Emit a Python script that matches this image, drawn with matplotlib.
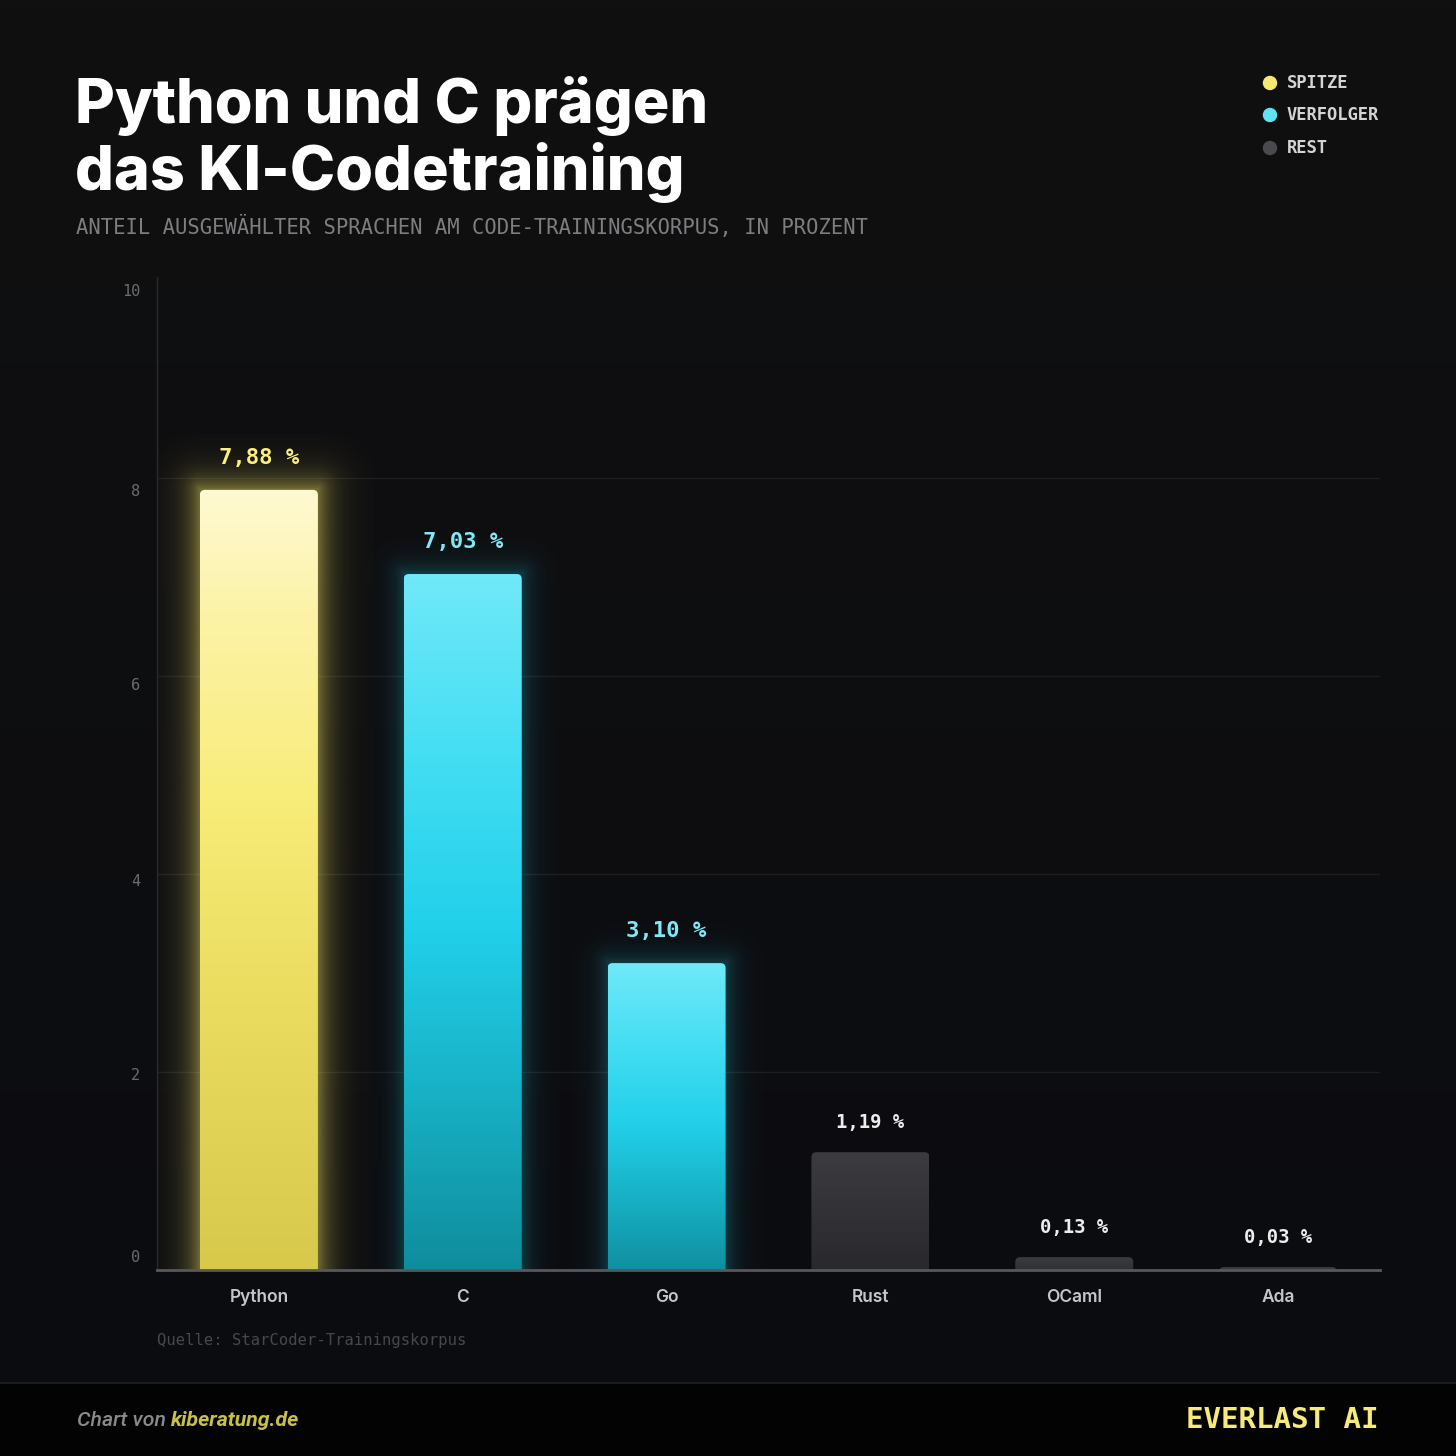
import numpy as np
import matplotlib
matplotlib.use("Agg")
import matplotlib.pyplot as plt
from matplotlib.patches import FancyBboxPatch, Rectangle, Circle
from matplotlib.colors import LinearSegmentedColormap, to_rgb
from matplotlib import transforms

# ---------------- data ----------------
categories = ["Python", "C", "Go", "Rust", "OCaml", "Ada"]
values = [7.88, 7.03, 3.10, 1.19, 0.13, 0.03]
value_labels = ["7,88 %", "7,03 %", "3,10 %", "1,19 %", "0,13 %", "0,03 %"]
groups = ["SPITZE", "VERFOLGER", "VERFOLGER", "REST", "REST", "REST"]
legend_labels = ["SPITZE", "VERFOLGER", "REST"]
y_ticks = [0, 2, 4, 6, 8, 10]
title_lines = ["Python und C prägen", "das KI-Codetraining"]
subtitle = "ANTEIL AUSGEWÄHLTER SPRACHEN AM CODE-TRAININGSKORPUS, IN PROZENT"
source = "Quelle: StarCoder-Trainingskorpus"

# ---------------- style ----------------
W = H = 1456
DPI = 100
MONO = "DejaVu Sans Mono"
SANS = "Inter"

group_style = {
    "SPITZE": dict(
        stops=[(0, "#D6C84A"), (0.35, "#E9DC5E"), (0.6, "#F8EC78"), (0.85, "#FCF3A8"), (1, "#FFF9D2")],
        label="#FBF07E", dot="#F7EA70", glow="#F2E060", glow_a=0.45, glow_l=15.0,
        lab_size=16, lab_off=32),
    "VERFOLGER": dict(
        stops=[(0, "#0F8A9A"), (0.25, "#17AFC3"), (0.5, "#22D0EA"), (0.75, "#45DEF3"), (1, "#70E9F9")],
        label="#7FE9F8", dot="#5FE3F5", glow="#22D3EE", glow_a=0.22, glow_l=11.0,
        lab_size=16, lab_off=32),
    "REST": dict(
        stops=[(0, "#27272B"), (1, "#3C3C40")],
        label="#EDEDED", dot="#4A4A4E", glow=None, glow_a=0, glow_l=1.0,
        lab_size=13.6, lab_off=30),
}

fig = plt.figure(figsize=(W / DPI, H / DPI), dpi=DPI)
fig.patch.set_facecolor("#0e0e11")

def fx(px):
    return px / W

def fy(py):
    return 1 - py / H

# background axes in pixel coordinates
bg = fig.add_axes([0, 0, 1, 1], zorder=-10)
bg.set_xlim(0, W)
bg.set_ylim(H, 0)
bg.axis("off")
grad = np.linspace(0, 1, 256)[:, None]
top_c = np.array(to_rgb("#101011"))
bot_c = np.array(to_rgb("#0b0c10"))
bgimg = top_c[None, None, :] * (1 - grad[..., None]) + bot_c[None, None, :] * grad[..., None]
bg.imshow(bgimg, extent=[0, W, H, 0], aspect="auto", zorder=0)
# footer band
bg.add_patch(Rectangle((0, 1383), W, H - 1383, color="#030304", zorder=1))
bg.plot([0, W], [1383, 1383], color="#1b1b22", lw=1.5, zorder=2)

# legend dots
leg_y = [83, 115, 148]
for lab, yy in zip(legend_labels, leg_y):
    bg.add_patch(Circle((1270, yy), 6.5, color=group_style[lab]["dot"], zorder=3))
    fig.text(fx(1287), fy(yy), lab, family=MONO, fontweight="bold", fontsize=12.3,
             color="#D4D4D6", va="center", ha="left")

# titles
fig.text(fx(75), fy(123), title_lines[0], family=SANS, fontweight="heavy", fontsize=44,
         color="white", va="baseline", ha="left")
fig.text(fx(75), fy(190), title_lines[1], family=SANS, fontweight="heavy", fontsize=44,
         color="white", va="baseline", ha="left")
fig.text(fx(76), fy(234), subtitle, family=MONO, fontsize=14.8, color="#7E7E82",
         va="baseline", ha="left")

# ---------------- main axes ----------------
x_left, x_right, y_base, y_top = 157, 1380, 1270, 280
ax = fig.add_axes([fx(x_left), fy(y_base), fx(x_right - x_left), (y_base - y_top) / H])
ax.patch.set_alpha(0)
n = len(categories)
xlim = (-0.5, n - 0.5)
ylim = (0, 10)
px_per_x = (x_right - x_left) / (xlim[1] - xlim[0])
px_per_y = (y_base - y_top) / (ylim[1] - ylim[0])
bw = 118 / px_per_x
r_px = 5
asp = (1 / px_per_y) / (1 / px_per_x)

for t in y_ticks[1:-1]:
    ax.axhline(t, color="#1d1d21", lw=1, zorder=0)

for i, (v, g) in enumerate(zip(values, groups)):
    st = group_style[g]
    x0 = i - bw / 2
    # glow
    if st["glow"]:
        M = 55
        bwp = 118
        hp = v * px_per_y
        nx = int(bwp + 2 * M)
        ny = int(hp + M)
        xs = np.arange(nx) + 0.5 - M
        ys = np.arange(ny) + 0.5  # from baseline upwards
        X, Y = np.meshgrid(xs, ys)
        dx = np.maximum(np.maximum(-X, X - bwp), 0)
        dy = np.maximum(Y - hp, 0)
        d = np.hypot(dx, dy)
        a = st["glow_a"] * np.exp(-d / st["glow_l"])
        rgba = np.zeros((ny, nx, 4))
        rgba[..., :3] = to_rgb(st["glow"])
        rgba[..., 3] = a
        ax.imshow(rgba, extent=[x0 - M / px_per_x, x0 + bw + M / px_per_x, 0, v + M / px_per_y],
                  origin="lower", aspect="auto", zorder=2, interpolation="bilinear")
    patch = FancyBboxPatch((x0, -0.12), bw, v + 0.12,
                           boxstyle=f"round,pad=0,rounding_size={r_px / px_per_x}",
                           mutation_aspect=asp, lw=0, fc="none", zorder=3)
    ax.add_patch(patch)
    cmap = LinearSegmentedColormap.from_list(g, st["stops"])
    im = ax.imshow(grad, extent=[x0, x0 + bw, -0.12, v], origin="lower", aspect="auto",
                   cmap=cmap, vmin=0, vmax=1, zorder=3, interpolation="bilinear")
    im.set_clip_path(patch)
    ax.annotate(value_labels[i], (i, v), xytext=(0, st["lab_off"]), textcoords="offset pixels",
                ha="center", va="center", family=MONO, fontweight="bold", fontsize=st["lab_size"],
                color=st["label"], zorder=5)

ax.set_xlim(*xlim)
ax.set_ylim(*ylim)
ax.set_xticks(range(n))
ax.set_xticklabels(categories, family=SANS, fontweight="semibold", fontsize=12.5, color="#C6C6CA")
ax.tick_params(axis="x", length=0, pad=14)
ax.set_yticks([])
ylab_off = {0: -12, 2: 4, 4: 7, 6: 10, 8: 14, 10: 12}
ytr = transforms.blended_transform_factory(ax.transAxes, ax.transData)
for t in y_ticks:
    ax.text(-17 / (x_right - x_left), t, str(t),
            transform=ytr + transforms.ScaledTranslation(0, -ylab_off[t] / DPI, fig.dpi_scale_trans),
            ha="right", va="center", family=MONO, fontsize=11, color="#6C6C70")
for s in ["top", "right"]:
    ax.spines[s].set_visible(False)
ax.spines["left"].set_color("#2a2a2e")
ax.spines["left"].set_linewidth(1)
ax.spines["left"].set_bounds(0, 10.03)
ax.spines["bottom"].set_color("#58585C")
ax.spines["bottom"].set_linewidth(2)
ax.spines["bottom"].set_zorder(6)

fig.text(fx(157), fy(1340), source, family=MONO, fontsize=11.2, color="#48484C", va="center", ha="left")

# footer
t1 = fig.text(fx(77), fy(1421), "Chart von ", family="Roboto", style="italic", fontweight="medium",
              fontsize=15.3, color="#8A8A8A", va="center", ha="left")
fig.canvas.draw()
bb = t1.get_window_extent()
fig.text(bb.x1 / W, fy(1421), "kiberatung.de", family="Roboto", style="italic", fontweight="bold",
         fontsize=15.3, color="#C9C04A", va="center", ha="left")
fig.text(fx(1379), fy(1420), "EVERLAST AI", family=MONO, fontweight="bold", fontsize=21,
         color="#F6EA7A", va="center", ha="right")

fig.savefig("out.png", dpi=DPI, facecolor=fig.get_facecolor())
